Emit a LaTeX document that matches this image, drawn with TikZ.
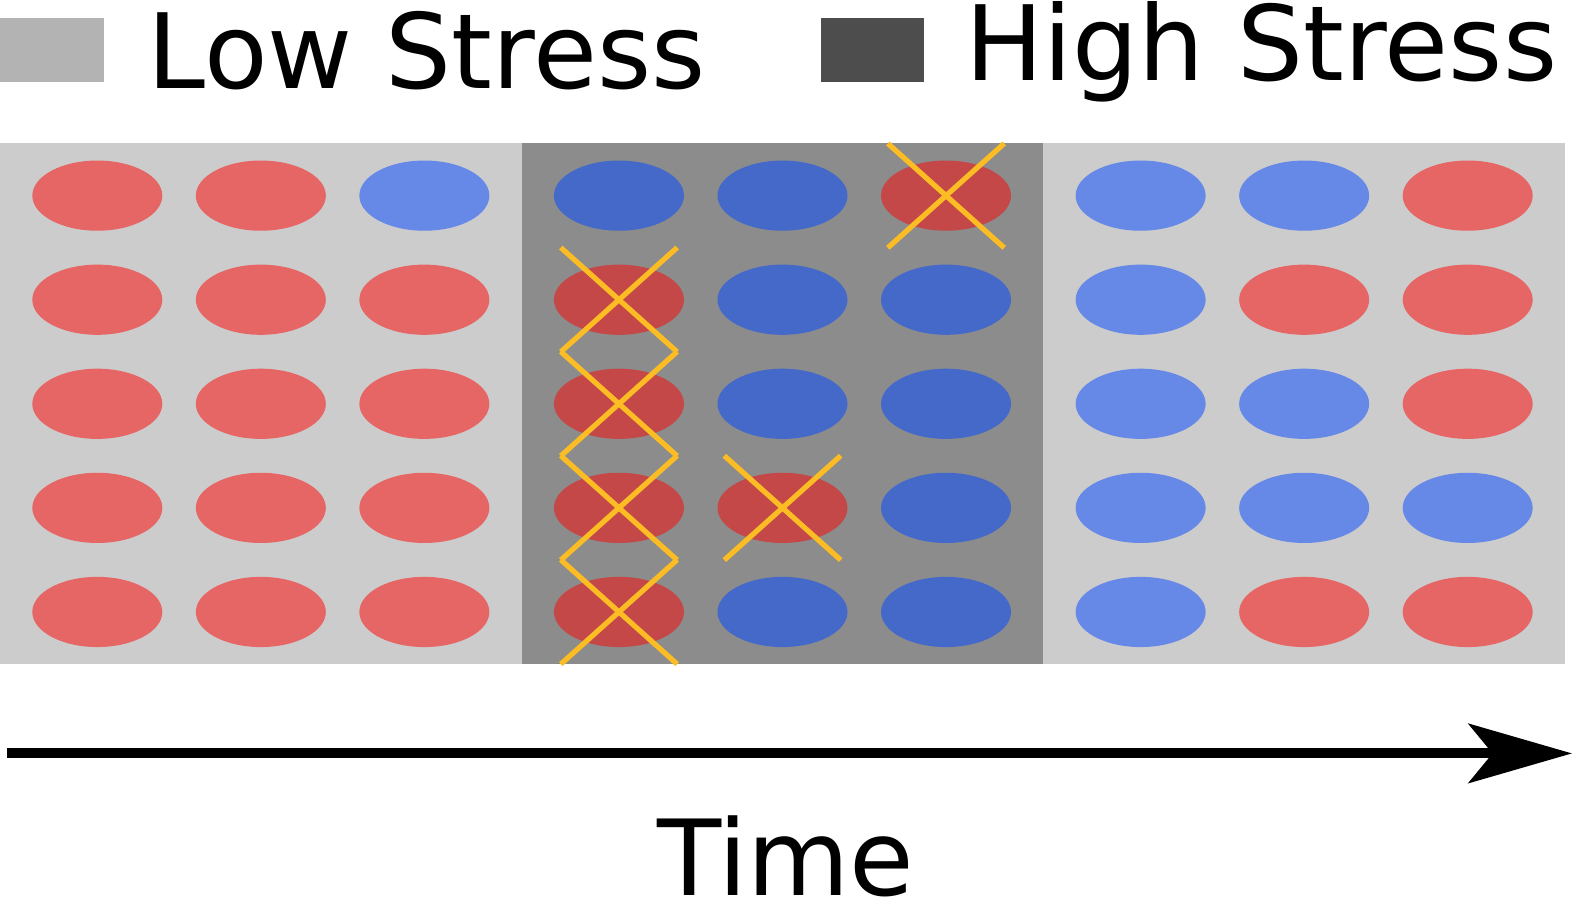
\documentclass[tikz,border=0pt]{standalone}
\usepackage{fontspec}
\setmainfont{DejaVu Sans}
\usetikzlibrary{arrows.meta,shapes.geometric}
\definecolor{lowbg}{HTML}{CCCCCC}
\definecolor{highbg}{HTML}{8C8C8C}
\definecolor{lowsw}{HTML}{B3B3B3}
\definecolor{highsw}{HTML}{4D4D4D}
\definecolor{lred}{HTML}{E66565}
\definecolor{lblue}{HTML}{6688E6}
\definecolor{dred}{HTML}{C44848}
\definecolor{dblue}{HTML}{4569C8}
\definecolor{xcol}{HTML}{FCBD24}
\begin{document}
\begin{tikzpicture}[x=0.5016pt,y=-0.5016pt,
  cellnode/.style={shape=ellipse,minimum width=65pt,minimum height=35.1pt,inner sep=0pt},
  legtext/.style={inner sep=0pt,font=\fontsize{52}{60}\selectfont},
  xline/.style={draw=xcol,line width=2.6pt}]
\useasboundingbox (0,0) rectangle (1568,897);
% legend
\fill[lowsw] (0,18) rectangle (104,82);
\node[legtext,anchor=base west] (low) at (147,88) {Low Stress};
\fill[highsw] (818,18) rectangle (921,82);
\node[legtext,anchor=base west] (high) at (962,80) {High Stress};
% panels
\fill[lowbg] (0,143) rectangle (1560,662);
\fill[highbg] (520,143) rectangle (1040,662);
% ellipses
\def\colx{{97,260,423,617,780,943,1137,1300,1463}}
\foreach \c/\cols in {1/{lred,lred,lred,lred,lred},2/{lred,lred,lred,lred,lred},3/{lblue,lred,lred,lred,lred},4/{dblue,dred,dred,dred,dred},5/{dblue,dblue,dblue,dred,dblue},6/{dred,dblue,dblue,dblue,dblue},7/{lblue,lblue,lblue,lblue,lblue},8/{lblue,lred,lblue,lblue,lred},9/{lred,lred,lred,lblue,lred}}{
  \pgfmathsetmacro{\xx}{\colx[\c-1]}
  \foreach \col [count=\r] in \cols {
    \pgfmathsetmacro{\yy}{195+(\r-1)*103.75}
    \node[cellnode,fill=\col] (e-\c-\r) at (\xx,\yy) {};
  }
}
% crosses
\foreach \c/\r in {4/2,4/3,4/4,4/5,5/4,6/1}{
  \draw[xline] ([shift={(-58,-52)}]e-\c-\r.center) -- ([shift={(58,52)}]e-\c-\r.center);
  \draw[xline] ([shift={(-58,52)}]e-\c-\r.center) -- ([shift={(58,-52)}]e-\c-\r.center);
}
% time arrow
\coordinate (tstart) at (7,751);
\coordinate (tend) at (1567,751);
\draw[line width=5pt,-{Stealth[length=51.7pt,width=29.6pt,inset=12pt]}] (tstart) -- (tend);
\node[legtext,anchor=base,font=\fontsize{52.5}{60}\selectfont] (time) at (783,893) {Time};
\end{tikzpicture}
\end{document}
